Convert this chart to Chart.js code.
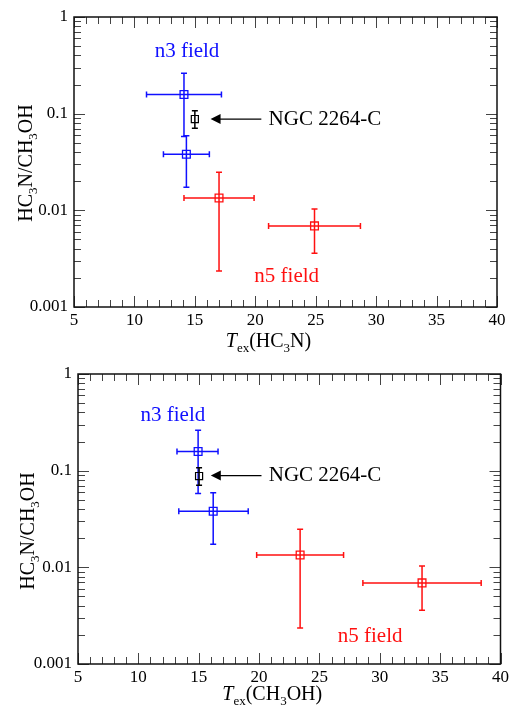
<!DOCTYPE html>
<html>
<head>
<meta charset="utf-8">
<script src="https://cdn.jsdelivr.net/npm/chart.js@4/dist/chart.umd.min.js"></script>
<style>
  html, body { margin: 0; padding: 0; background: #fff; }
  .panel { position: relative; width: 512px; height: 353px; }
</style>
</head>
<body>
<div class="panel"><canvas id="top"></canvas></div>
<div class="panel"><canvas id="bottom"></canvas></div>
<script>
// HC3N/CH3OH ratio, same for both panels
const ratioN3 = [0.158, 0.038];
const ratioN3Lo = [0.058, 0.0173];
const ratioN3Hi = [0.262, 0.059];
const ratioN5 = [0.0134, 0.0069];
const ratioN5Lo = [0.00236, 0.0036];
const ratioN5Hi = [0.0248, 0.0103];
const ratioNGC = [0.088];
const ratioNGCLo = [0.0706];
const ratioNGCHi = [0.107];

// Tex(HC3N) - top panel
const texHC3N_n3 = [14.1, 14.3];
const texHC3N_n3Lo = [11.0, 12.4];
const texHC3N_n3Hi = [17.2, 16.2];
const texHC3N_n5 = [17.0, 24.9];
const texHC3N_n5Lo = [14.1, 21.1];
const texHC3N_n5Hi = [19.9, 28.7];
const texHC3N_NGC = [15.0];

// Tex(CH3OH) - bottom panel
const texCH3OH_n3 = [14.95, 16.2];
const texCH3OH_n3Lo = [13.2, 13.35];
const texCH3OH_n3Hi = [16.6, 19.1];
const texCH3OH_n5 = [23.4, 33.5];
const texCH3OH_n5Lo = [19.8, 28.6];
const texCH3OH_n5Hi = [27.0, 38.4];
const texCH3OH_NGC = [15.03];

const xTicks = [5, 10, 15, 20, 25, 30, 35, 40];
const yTicks = [0.001, 0.01, 0.1, 1];
const yTickLabels = ['0.001', '0.01', '0.1', '1'];

const SERIF = '"Liberation Serif", "Times New Roman", serif';
const BLUE = '#1010ff';
const RED = '#ff1010';

function pts(xs, ys) {
  return xs.map((x, i) => ({ x: x, y: ys[i] }));
}
function pairs(lo, hi) {
  return lo.map((v, i) => [v, hi[i]]);
}

// rich text: parts drawn left to right, centred on x, baseline y
function drawRich(ctx, parts, x, y) {
  let w = 0;
  parts.forEach(p => { ctx.font = p.font; w += ctx.measureText(p.t).width; });
  let cx = x - w / 2;
  ctx.textAlign = 'left';
  ctx.textBaseline = 'alphabetic';
  parts.forEach(p => {
    ctx.font = p.font;
    ctx.fillText(p.t, cx, y + (p.dy || 0));
    cx += ctx.measureText(p.t).width;
  });
}

const big = '20px ' + SERIF;
const sub = '13px ' + SERIF;
const yTitle = [
  { t: 'HC', font: big }, { t: '3', font: sub, dy: 5 }, { t: 'N/CH', font: big },
  { t: '3', font: sub, dy: 5 }, { t: 'OH', font: big }
];

// frame with inside ticks on all sides
const framePlugin = {
  id: 'frame',
  beforeDatasetsDraw(chart) {
    const { ctx, chartArea: a, scales: { x, y } } = chart;
    ctx.save();
    ctx.strokeStyle = '#444';
    ctx.lineWidth = 1;
    ctx.beginPath();
    for (let v = x.min; v <= x.max; v += 1) {
      const px = Math.round(x.getPixelForValue(v)) + 0.5;
      const len = v % 5 === 0 ? 11 : 7;
      ctx.moveTo(px, a.bottom); ctx.lineTo(px, a.bottom - len);
      ctx.moveTo(px, a.top); ctx.lineTo(px, a.top + len);
    }
    for (let d = 0.001; d < 1.5; d *= 10) {
      for (let m = 1; m <= 9; m++) {
        const v = d * m;
        if (v > 1.0001) break;
        const py = Math.round(y.getPixelForValue(v)) + 0.5;
        const len = m === 1 ? 11 : 7;
        ctx.moveTo(a.left, py); ctx.lineTo(a.left + len, py);
        ctx.moveTo(a.right, py); ctx.lineTo(a.right - len, py);
      }
    }
    ctx.stroke();
    ctx.strokeStyle = '#111';
    ctx.lineWidth = 1.5;
    ctx.strokeRect(a.left, a.top, a.right - a.left, a.bottom - a.top);
    ctx.restore();
  }
};

// error bars from dataset errX / errY
const errorPlugin = {
  id: 'errbars',
  beforeDatasetsDraw(chart) {
    const { ctx, scales: { x, y } } = chart;
    ctx.save();
    chart.data.datasets.forEach(ds => {
      ctx.strokeStyle = ds.borderColor;
      ctx.lineWidth = 1.5;
      ds.data.forEach((p, i) => {
        const px = x.getPixelForValue(p.x);
        const py = y.getPixelForValue(p.y);
        ctx.beginPath();
        if (ds.errX) {
          const l = x.getPixelForValue(ds.errX[i][0]);
          const r = x.getPixelForValue(ds.errX[i][1]);
          ctx.moveTo(l, py); ctx.lineTo(r, py);
          ctx.moveTo(l, py - 3); ctx.lineTo(l, py + 3);
          ctx.moveTo(r, py - 3); ctx.lineTo(r, py + 3);
        }
        if (ds.errY) {
          const b = y.getPixelForValue(ds.errY[i][0]);
          const t = y.getPixelForValue(ds.errY[i][1]);
          ctx.moveTo(px, b); ctx.lineTo(px, t);
          ctx.moveTo(px - 3, b); ctx.lineTo(px + 3, b);
          ctx.moveTo(px - 3, t); ctx.lineTo(px + 3, t);
        }
        ctx.stroke();
      });
    });
    ctx.restore();
  }
};

// field labels, arrow and axis titles
const notesPlugin = {
  id: 'notes',
  afterDraw(chart, args, opts) {
    const { ctx, chartArea: a, scales: { x, y } } = chart;
    ctx.save();
    ctx.font = '21px ' + SERIF;
    ctx.textBaseline = 'middle';
    ctx.textAlign = 'center';
    opts.labels.forEach(l => {
      ctx.fillStyle = l.color;
      ctx.fillText(l.text, x.getPixelForValue(l.x), y.getPixelForValue(l.y));
    });
    // arrow to NGC 2264-C
    const ay = y.getPixelForValue(opts.arrow.y);
    const tip = x.getPixelForValue(opts.arrow.to);
    const tail = x.getPixelForValue(opts.arrow.from);
    ctx.strokeStyle = '#000';
    ctx.fillStyle = '#000';
    ctx.lineWidth = 1.2;
    ctx.beginPath();
    ctx.moveTo(tail, ay); ctx.lineTo(tip + 8, ay);
    ctx.stroke();
    ctx.beginPath();
    ctx.moveTo(tip, ay); ctx.lineTo(tip + 10, ay - 5); ctx.lineTo(tip + 10, ay + 5);
    ctx.closePath(); ctx.fill();
    ctx.textAlign = 'left';
    ctx.fillText(opts.ngc.text, x.getPixelForValue(opts.ngc.x), y.getPixelForValue(opts.ngc.y));

    // axis titles
    ctx.fillStyle = '#000';
    ctx.save();
    ctx.translate(opts.yTitle.x, (a.top + a.bottom) / 2 + opts.yTitle.dy);
    ctx.rotate(-Math.PI / 2);
    drawRich(ctx, yTitle, 0, 7);
    ctx.restore();
    drawRich(ctx, opts.xTitle.parts, (a.left + a.right) / 2 + opts.xTitle.dx, opts.xTitle.y);
    ctx.restore();
  }
};

function makeChart(id, s) {
  return new Chart(document.getElementById(id), {
    type: 'scatter',
    data: {
      datasets: [
        {
          data: pts(s.n3, ratioN3), errX: pairs(s.n3Lo, s.n3Hi), errY: pairs(ratioN3Lo, ratioN3Hi),
          borderColor: BLUE, backgroundColor: 'transparent', pointStyle: 'rect', pointRadius: 5.5, borderWidth: 1.3
        },
        {
          data: pts(s.n5, ratioN5), errX: pairs(s.n5Lo, s.n5Hi), errY: pairs(ratioN5Lo, ratioN5Hi),
          borderColor: RED, backgroundColor: 'transparent', pointStyle: 'rect', pointRadius: 5.5, borderWidth: 1.3
        },
        {
          data: pts(s.ngc, ratioNGC), errY: pairs(ratioNGCLo, ratioNGCHi),
          borderColor: '#000', backgroundColor: 'transparent', pointStyle: 'rect', pointRadius: 5, borderWidth: 1.2
        }
      ]
    },
    options: {
      responsive: false,
      animation: false,
      layout: { padding: { top: s.padTop, right: s.padRight, left: 0, bottom: 0 } },
      plugins: {
        legend: { display: false },
        tooltip: { enabled: false },
        notes: s.notes
      },
      scales: {
        x: {
          type: 'linear', min: 5, max: 40,
          grid: { display: false, drawTicks: false }, border: { display: false },
          afterBuildTicks: sc => { sc.ticks = xTicks.map(v => ({ value: v })); },
          afterFit: sc => { sc.height = s.xH; },
          ticks: { font: { family: SERIF, size: 17 }, color: '#000', padding: 3, maxRotation: 0, autoSkip: false }
        },
        y: {
          type: 'logarithmic', min: 0.001, max: 1,
          grid: { display: false, drawTicks: false }, border: { display: false },
          afterBuildTicks: sc => { sc.ticks = yTicks.map(v => ({ value: v })); },
          afterFit: sc => { sc.width = s.yW; },
          ticks: { font: { family: SERIF, size: 17 }, color: '#000', padding: 6, callback: (v, i) => yTickLabels[i] }
        }
      }
    },
    plugins: [framePlugin, errorPlugin, notesPlugin]
  });
}

const topCanvas = document.getElementById('top');
topCanvas.width = 512; topCanvas.height = 353;
const botCanvas = document.getElementById('bottom');
botCanvas.width = 512; botCanvas.height = 353;

makeChart('top', {
  n3: texHC3N_n3, n3Lo: texHC3N_n3Lo, n3Hi: texHC3N_n3Hi,
  n5: texHC3N_n5, n5Lo: texHC3N_n5Lo, n5Hi: texHC3N_n5Hi,
  ngc: texHC3N_NGC,
  padTop: 17, padRight: 15, yW: 74, xH: 46,
  notes: {
    labels: [
      { text: 'n3 field', x: 14.35, y: 0.435, color: BLUE },
      { text: 'n5 field', x: 22.6, y: 0.00205, color: RED }
    ],
    arrow: { from: 20.5, to: 16.3, y: 0.088 },
    ngc: { text: 'NGC 2264-C', x: 21.1, y: 0.088 },
    yTitle: { x: 25, dy: 1 },
    xTitle: {
      dx: -17, y: 347,
      parts: [
        { t: 'T', font: 'italic 20px ' + SERIF }, { t: 'ex', font: sub, dy: 5 },
        { t: '(HC', font: big }, { t: '3', font: sub, dy: 5 }, { t: 'N)', font: big }
      ]
    }
  }
});

makeChart('bottom', {
  n3: texCH3OH_n3, n3Lo: texCH3OH_n3Lo, n3Hi: texCH3OH_n3Hi,
  n5: texCH3OH_n5, n5Lo: texCH3OH_n5Lo, n5Hi: texCH3OH_n5Hi,
  ngc: texCH3OH_NGC,
  padTop: 21, padRight: 11, yW: 78, xH: 42,
  notes: {
    labels: [
      { text: 'n3 field', x: 12.86, y: 0.368, color: BLUE },
      { text: 'n5 field', x: 29.2, y: 0.00193, color: RED }
    ],
    arrow: { from: 20.2, to: 16.0, y: 0.089 },
    ngc: { text: 'NGC 2264-C', x: 20.8, y: 0.089 },
    yTitle: { x: 27, dy: 12 },
    xTitle: {
      dx: -17, y: 347,
      parts: [
        { t: 'T', font: 'italic 20px ' + SERIF }, { t: 'ex', font: sub, dy: 5 },
        { t: '(CH', font: big }, { t: '3', font: sub, dy: 5 }, { t: 'OH)', font: big }
      ]
    }
  }
});
</script>
</body>
</html>
